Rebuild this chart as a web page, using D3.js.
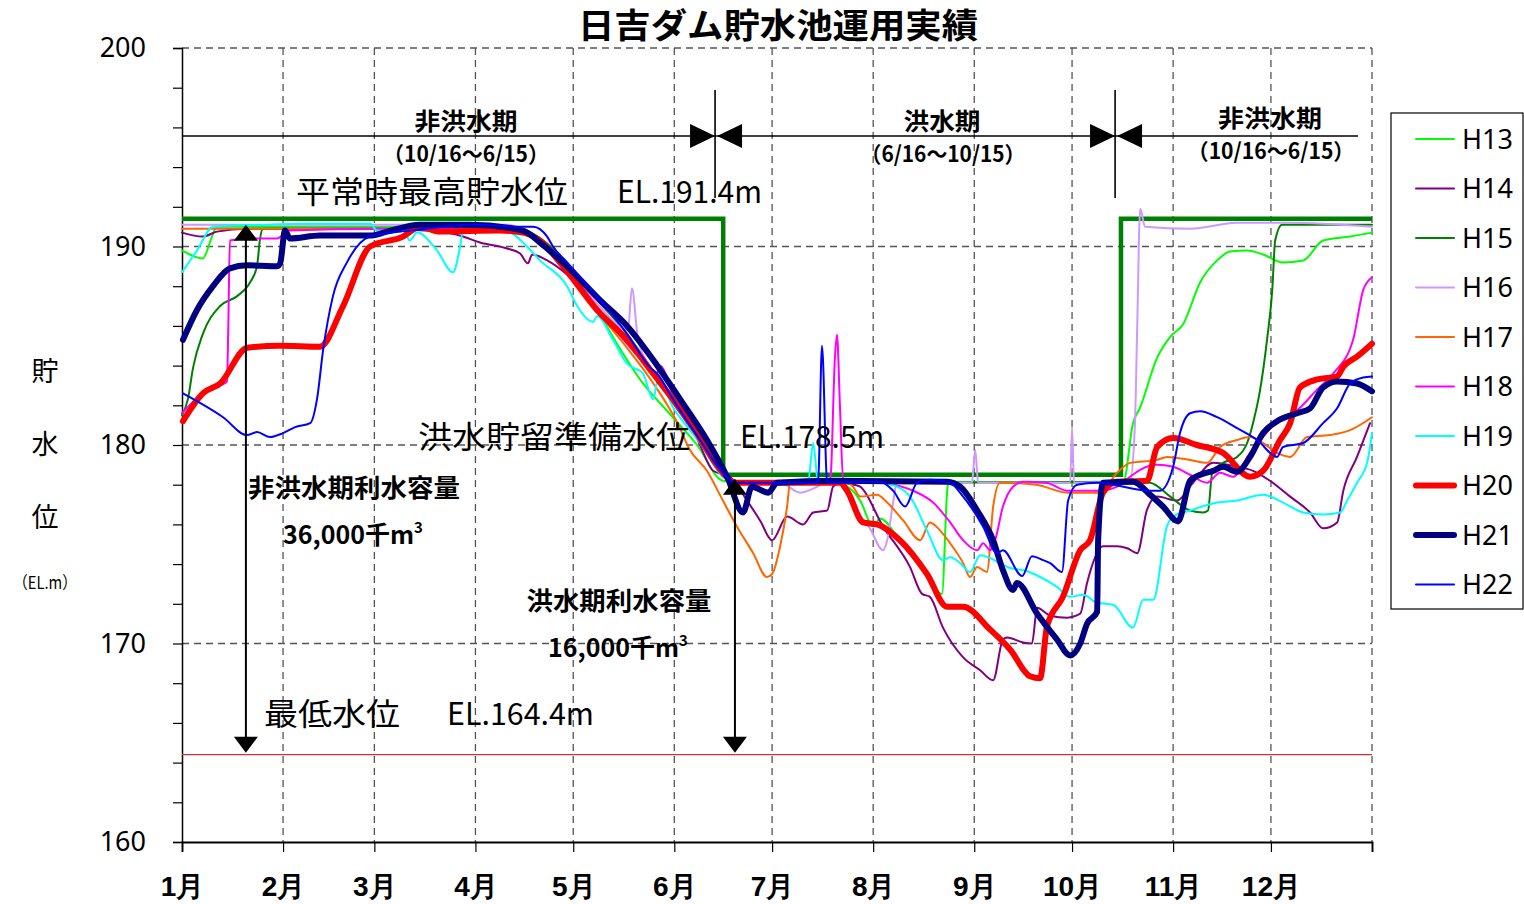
<!DOCTYPE html>
<html>
<head>
<meta charset="utf-8">
<script src="https://cdn.jsdelivr.net/npm/d3@7"></script>
<style>
  body { margin: 0; background: #fff; }
  svg { display: block; font-family: "Noto Sans CJK JP", "Noto Sans", sans-serif; }
</style>
</head>
<body>
<svg id="chart" width="1524" height="904"></svg>
<script>
// ---- axis categories ----
const monthLabels = ["1月","2月","3月","4月","5月","6月","7月","8月","9月","10月","11月","12月"];
const monthStartDays = [0, 31, 59, 90, 120, 151, 181, 212, 243, 273, 304, 334];
const yearEnd = 365;
const yMajorTicks = [160, 170, 180, 190, 200];

// ---- reference levels (EL.m) ----
const normalMaxLevel = 191.4;   // 平常時最高貯水位
const floodPrepLevel = 178.5;   // 洪水貯留準備水位
const minimumLevel = 164.4;     // 最低水位

// operating rule: [day of year, level]
const ruleCurve = [[0,191.4],[166,191.4],[166,178.5],[288,178.5],[288,191.4],[365,191.4]];

// ---- observed reservoir levels: [day of year, EL.m] ----
const seriesNames = ["H13","H14","H15","H16","H17","H18","H19","H20","H21","H22"];

const h13 = [[0,189.8],[6.4,189.4],[9.2,190.5],[10.7,191.0],[40,191.0],[80,191.0],[100,190.9],[108,190.5],[116,189.3],[125,187.4],[135.3,184.6],[140.5,183.3],[150,181.5],[158,180.0],[165.9,178.2],[175,178.1],[195,178.2],[204,177.9],[208,177.2],[212,175.9],[214.1,176.3],[220.2,175.2],[226.4,174.05],[233.1,172.5],[234.7,177.7],[235.0,178.15],[260,178.1],[288.7,178.1],[291.7,181.1],[293.9,181.9],[299.1,184.4],[303.1,185.45],[307.1,186.1],[312.3,188.2],[317.5,189.3],[321.5,189.75],[326.7,189.8],[331.6,189.6],[337.7,189.2],[343.9,189.3],[350.0,190.3],[358.3,190.5],[365,190.7]];

const h14 = [[0,190.7],[6.4,190.5],[10.7,190.75],[19.9,190.9],[60,190.9],[79.1,190.75],[86.2,190.5],[91.4,190.2],[99.7,189.9],[103.7,189.65],[106.1,189.15],[107.4,189.6],[112,189.3],[118,188.6],[128,186.8],[136,185.3],[145,183.4],[152,181.8],[158,180.3],[162.9,178.7],[168.1,178.4],[173.3,177.2],[177.3,176.2],[181.0,175.2],[185.6,176.4],[190.5,176.0],[193.6,176.6],[197.9,176.7],[199.7,177.9],[201.8,178.1],[206,178.0],[208.0,177.9],[215.0,175.9],[223.3,173.85],[227.0,172.5],[229.4,172.35],[233.4,170.8],[239.6,169.3],[244.8,168.65],[248.8,168.15],[251.8,170.2],[253.1,170.3],[258.0,170.05],[260.7,170.0],[262.3,171.8],[266.3,171.4],[271.5,171.3],[275.5,171.5],[277.6,173.05],[282.5,174.9],[286.8,174.9],[289.9,174.8],[293.0,174.55],[296.0,176.75],[299.1,177.4],[305.2,177.2],[310.1,178.1],[316.3,179.1],[323.6,178.9],[328.5,178.7],[333.7,178.2],[339.9,177.4],[346.0,176.6],[350.0,175.8],[354.3,176.1],[356.2,177.7],[360.4,179.4],[364.4,181.1]];

const h15 = [[0,181.5],[1.8,182.3],[3.4,183.9],[6.4,185.6],[11.7,187.0],[16.9,187.5],[20.9,188.2],[23.0,189.0],[23.9,190.35],[24.8,190.9],[60,190.9],[90,191.0],[104,190.9],[110,190.4],[118,189.2],[128,187.2],[136,185.7],[145,183.6],[152,181.9],[160,180.1],[165.9,178.5],[170,178.1],[230,178.1],[288.7,178.15],[296.9,178.1],[303.1,177.4],[309.2,176.7],[313.2,176.6],[314.7,176.7],[316.0,178.6],[319.3,179.1],[323.6,179.4],[326.7,180.1],[328.5,181.1],[330.7,182.8],[332.8,185.3],[334.4,187.8],[335.3,190.3],[337.4,191.1],[365,191.1]];

const h16 = [[0,191.1],[100,191.1],[106,190.7],[112,190.0],[120,188.6],[128,187.0],[136.8,185.8],[138.0,187.9],[139.9,185.3],[145,183.6],[152,181.8],[160,180.0],[166,178.4],[170,178.1],[183.4,178.1],[189.6,177.6],[193.6,177.8],[198.8,178.2],[203,178.0],[207.1,176.7],[211.0,175.8],[215.0,174.7],[216.3,175.2],[218.1,177.1],[219.3,178.1],[242.3,178.1],[243.3,179.75],[244.2,178.1],[272.4,178.1],[273.0,180.9],[273.6,178.1],[290.8,178.2],[292.3,181.1],[293.0,186.1],[293.9,191.9],[295.4,191.0],[309.2,190.9],[323.6,191.2],[339,191.2],[365,191.0]];

const h17 = [[0,190.9],[100,190.9],[106,190.6],[112,189.9],[120,188.4],[128,186.6],[136,185.0],[145,183.0],[152,181.1],[155.8,179.75],[161.0,178.7],[165.9,177.2],[170.2,175.9],[175.2,174.55],[179.4,173.35],[181.0,173.5],[183.4,174.85],[185.6,176.9],[186.5,178.1],[204.0,178.1],[205.8,177.9],[208.0,177.4],[213.2,177.5],[216.3,177.1],[221.2,176.2],[226.4,175.2],[229.4,176.1],[232.5,175.7],[235.6,175.05],[239.6,174.05],[241.7,173.35],[243.9,173.85],[246.9,173.6],[248.8,176.9],[250.9,178.1],[262,178.0],[271.5,177.6],[281.6,177.6],[286.8,178.6],[290.8,179.1],[299.1,179.25],[302.1,179.4],[309.2,179.25],[314.4,179.1],[318.4,179.9],[323.6,180.25],[327.6,180.4],[331.6,180.1],[335.9,179.6],[339.9,179.4],[345.1,180.4],[352.1,180.5],[358.3,180.75],[365,181.4]];

const h18 = [[0,181.6],[6.4,182.6],[11.7,183.0],[13.8,183.2],[14.2,186.0],[14.7,190.3],[20,190.4],[29.1,190.4],[33,190.8],[60,190.9],[100,190.9],[106,190.6],[112,189.8],[120,188.5],[128,186.8],[136,185.2],[144,183.8],[145.7,183.6],[146.5,184.0],[152,181.9],[160,180.1],[166,178.5],[170,178.1],[198.8,178.2],[200.3,184.5],[200.9,185.55],[201.8,182.0],[202.8,178.2],[214.1,178.1],[224.2,177.7],[230.4,177.1],[235.6,176.1],[239.6,175.2],[243.9,174.7],[245.7,175.05],[247.9,174.7],[249.4,175.2],[251.8,176.9],[254.9,177.9],[258.0,178.15],[265,178.1],[271.5,177.7],[281.6,177.7],[286.8,177.9],[290.8,178.4],[293.9,178.75],[299.1,179.0],[304.0,178.9],[309.2,178.5],[314.4,178.1],[318.4,178.6],[322.4,178.4],[327.6,179.6],[331.6,180.4],[335.9,181.25],[342.0,181.75],[348.2,182.8],[353.1,183.6],[359.2,185.3],[362.3,187.8],[365,188.45]];

const h19 = [[0,188.7],[4.6,189.8],[9.5,191.0],[27,191.1],[37.1,191.15],[57.7,191.15],[59.8,190.8],[67.8,190.9],[69.9,190.3],[72.1,190.7],[78.2,189.8],[83.1,188.7],[85.3,190.0],[86.2,190.8],[99.7,190.75],[105.8,190.0],[109.8,189.3],[118.1,188.0],[121.2,187.0],[126.1,186.2],[127.3,186.5],[132.2,185.3],[136.5,184.1],[141.4,183.6],[144.5,182.3],[146.0,183.3],[150.6,181.9],[158.9,180.1],[165.9,178.4],[170,178.1],[192.0,178.1],[193.6,180.1],[195.1,178.1],[214,178.1],[219.3,177.9],[223.3,177.4],[228.5,175.7],[233.4,174.2],[235.6,174.35],[238.7,174.05],[241.7,173.6],[244.8,174.45],[247.9,174.3],[250.9,174.05],[254.0,173.8],[258.0,173.7],[263.2,173.35],[268.4,172.85],[272.4,172.35],[276.4,172.45],[280.7,172.05],[285.6,171.95],[291.7,170.8],[294.8,172.2],[297.9,172.2],[302.1,175.9],[304.0,176.4],[309.2,176.7],[317.5,177.1],[323.6,177.2],[331.6,177.5],[337.7,177.1],[343.9,176.6],[350.0,176.5],[355.2,176.6],[357.4,177.2],[360.4,178.1],[363.5,179.1],[365,180.6]];

const h20 = [[0.3,181.2],[6.4,182.6],[11.7,183.1],[20,184.9],[30,185.0],[42.3,184.95],[49.4,187.0],[57.7,190.0],[67.8,190.5],[73,191.0],[79.1,190.75],[97.5,190.8],[104.6,190.7],[109.8,190.3],[116.9,189.0],[127.3,186.8],[136.5,185.3],[144.5,183.6],[150.6,182.3],[156.7,180.9],[165.9,178.6],[169.6,178.1],[201.8,178.1],[204.0,177.7],[208.9,176.1],[213.2,176.0],[220.2,175.2],[228.5,173.5],[234.7,171.85],[239.6,171.85],[247.9,170.7],[254.0,169.7],[260.1,168.35],[263.2,168.25],[265.3,170.85],[270.2,172.35],[275.5,174.7],[278.5,175.2],[282.5,177.6],[286.8,178.15],[296.0,178.2],[299.1,179.9],[304.0,180.35],[311.3,180.0],[319.3,179.6],[327.6,178.4],[331.6,178.7],[336.8,180.25],[339.9,181.1],[342.9,182.9],[348.2,183.3],[354.3,183.45],[356.2,183.95],[360.4,184.45],[365,185.1]];

const h21 = [[0.3,185.3],[4.6,186.8],[9.5,188.0],[14.7,188.9],[19.9,189.05],[29.1,189.0],[30.1,189.15],[31.6,190.8],[33.1,190.4],[42.3,190.55],[57.7,190.55],[62.9,190.75],[73,191.1],[88.3,191.1],[104.6,190.8],[109.8,190.2],[118.1,189.0],[128.2,187.3],[136.5,186.0],[144.5,184.3],[152.8,182.3],[161.0,180.25],[167.2,178.4],[172.1,176.6],[174.8,177.9],[179.8,177.6],[182.5,178.1],[200,178.2],[234.7,178.15],[238.7,177.9],[243.9,176.7],[248.8,175.2],[251.8,173.7],[254.9,172.7],[256.1,173.05],[262.3,171.5],[268.4,170.2],[272.4,169.4],[275.5,170.0],[277.6,171.0],[280.7,171.6],[281.0,175.2],[282.5,178.1],[291.7,178.15],[296.9,177.5],[300.9,176.9],[305.5,176.15],[309.2,178.2],[312.3,178.5],[316.3,178.7],[319.3,178.9],[323.6,178.65],[327.6,179.4],[331.6,180.6],[335.9,181.2],[342.0,181.6],[346.0,181.85],[350.0,182.9],[354.3,183.2],[360.4,183.1],[365,182.7]];

const h22 = [[0.3,182.6],[12.6,181.4],[19.9,180.5],[23.0,180.65],[27.0,180.4],[31.0,180.6],[34.7,180.9],[39.3,181.1],[41.4,182.3],[43.3,184.8],[46.3,187.5],[50.6,189.2],[57.7,190.5],[69.9,190.8],[89.3,191.1],[104.6,191.0],[107.7,191.0],[112.0,190.5],[113.8,190.0],[118.1,189.2],[127.3,187.5],[136.5,185.6],[143.6,183.9],[145.7,183.6],[150.6,182.3],[158.9,180.25],[165.9,178.6],[170,178.1],[195.1,178.1],[196.3,185.0],[197.9,178.1],[214.1,178.15],[218.1,177.7],[221.8,176.9],[225.5,178.1],[229.4,178.25],[235.6,178.1],[239.6,177.4],[245.7,175.9],[250.0,174.55],[251.8,174.7],[257.7,173.4],[260.7,174.4],[264.1,174.2],[266.3,174.05],[269.9,173.6],[271.8,177.2],[274.5,178.0],[280.7,178.1],[296.9,177.7],[300,177.7],[304.0,178.9],[306.1,180.6],[309.2,181.6],[312.3,181.7],[317.5,181.4],[323.6,180.85],[329.8,180.25],[335.9,179.4],[337.7,179.9],[343.9,180.1],[350.0,181.1],[354.3,181.85],[358.3,183.1],[362.3,183.4],[365,183.45]];

const seriesValues = [h13, h14, h15, h16, h17, h18, h19, h20, h21, h22];

// ---- styling ----
const seriesColors = ["#00ff00","#800080","#008000","#cc99ff","#ff6600","#ff00ff","#00ffff","#ff0000","#000080","#0000ff"];
const seriesWidths = [2, 2, 2, 2, 2, 2, 2, 6, 6, 2];

const svg = d3.select("#chart");
const plot = { left: 182, right: 1372, top: 48, bottom: 842 };

const x = d3.scaleLinear().domain([0, yearEnd]).range([plot.left, plot.right]);
const y = d3.scaleLinear().domain([160, 200]).range([plot.bottom, plot.top]);

// gridlines
const grid = svg.append("g").attr("stroke", "#555").attr("stroke-width", 1.3).attr("stroke-dasharray", "7,5");
grid.selectAll("line.v").data(monthStartDays.slice(1).concat([yearEnd])).join("line")
  .attr("x1", d => x(d)).attr("x2", d => x(d)).attr("y1", plot.top).attr("y2", plot.bottom);
grid.selectAll("line.h").data(yMajorTicks.slice(1)).join("line")
  .attr("x1", plot.left).attr("x2", plot.right).attr("y1", d => y(d)).attr("y2", d => y(d));

// y axis
const yAxis = svg.append("g").attr("transform", `translate(${plot.left},0)`)
  .call(d3.axisLeft(y).tickValues(d3.range(160, 201, 2)).tickSize(9).tickPadding(27)
    .tickFormat(d => d % 10 === 0 ? d : ""));
yAxis.select(".domain").attr("stroke", "#000").attr("stroke-width", 1.5);
yAxis.selectAll(".tick line").attr("stroke", "#000").attr("stroke-width", 1.2);
yAxis.selectAll("text").attr("font-size", 27).attr("fill", "#000")
  .attr("font-family", "'Noto Sans', 'Noto Sans CJK JP', sans-serif");

// x axis
const xAxis = svg.append("g").attr("transform", `translate(0,${plot.bottom})`)
  .call(d3.axisBottom(x).tickValues(monthStartDays.concat([yearEnd])).tickSize(10)
    .tickFormat((d, i) => monthLabels[i] || ""));
xAxis.select(".domain").attr("stroke", "#000").attr("stroke-width", 1.8);
xAxis.selectAll(".tick line").attr("stroke", "#000").attr("stroke-width", 1.2);
xAxis.selectAll("text").attr("font-size", 28).attr("font-weight", "bold").attr("fill", "#000")
  .attr("y", 44).attr("dy", "0.35em");

// minimum level line
svg.append("line").attr("x1", plot.left).attr("x2", plot.right)
  .attr("y1", y(minimumLevel)).attr("y2", y(minimumLevel))
  .attr("stroke", "#d83030").attr("stroke-width", 1.3);

// rule curve
const line = d3.line().x(d => x(d[0])).y(d => y(d[1]));
svg.append("path").datum(ruleCurve).attr("d", line)
  .attr("fill", "none").attr("stroke", "#008000").attr("stroke-width", 4.5);

// observed series
const smooth = d3.line().x(d => x(d[0])).y(d => y(d[1])).curve(d3.curveMonotoneX);
seriesValues.forEach((vals, i) => {
  svg.append("path").datum(vals).attr("d", smooth)
    .attr("fill", "none").attr("stroke", seriesColors[i]).attr("stroke-width", seriesWidths[i])
    .attr("stroke-linejoin", "round").attr("stroke-linecap", "round");
});

// ---- text helper ----
function label(txt, cx, cy, size, weight, len, anchor) {
  const t = svg.append("text").attr("x", cx).attr("y", cy).attr("dy", "0.35em")
    .attr("font-size", size).attr("font-weight", weight || "normal")
    .attr("text-anchor", anchor || "middle").attr("fill", "#000").text(txt);
  if (len) t.attr("textLength", len).attr("lengthAdjust", "spacingAndGlyphs");
  return t;
}

// title
label("日吉ダム貯水池運用実績", 778, 26, 34, "bold", 400);

// y axis title
label("貯", 45, 372, 27);
label("水", 45, 445, 27);
label("位", 45, 518, 27);
label("（EL.m）", 45, 583, 17, "normal", 64);

// flood period header
const periodY = 136;
const floodStartX = x(163.5), floodEndX = x(286.2);
svg.append("line").attr("x1", plot.left).attr("x2", 1358).attr("y1", periodY).attr("y2", periodY)
  .attr("stroke", "#000").attr("stroke-width", 1.6);
[floodStartX, floodEndX].forEach(bx => {
  svg.append("line").attr("x1", bx).attr("x2", bx).attr("y1", 90).attr("y2", 198)
    .attr("stroke", "#000").attr("stroke-width", 1.6);
  svg.append("path").attr("d", `M${bx},${periodY} L${bx - 25},${periodY - 12} L${bx - 25},${periodY + 12} Z`).attr("fill", "#000");
  svg.append("path").attr("d", `M${bx + 2},${periodY} L${bx + 27},${periodY - 12} L${bx + 27},${periodY + 12} Z`).attr("fill", "#000");
});
label("非洪水期", 466, 122, 24, "bold", 103);
label("（10/16～6/15）", 466, 154, 22, "bold", 166);
label("洪水期", 942, 122, 24, "bold", 77);
label("（6/16～10/15）", 943, 154, 22, "bold", 165);
label("非洪水期", 1270, 119, 24, "bold", 104);
label("（10/16～6/15）", 1271, 151, 22, "bold", 167);

// level annotations
label("平常時最高貯水位", 296, 192, 31, "normal", 272, "start");
label("EL.191.4m", 617, 192, 31, "normal", 145, "start");
label("洪水貯留準備水位", 418, 437, 31, "normal", 272, "start");
label("EL.178.5m", 740, 437, 31, "normal", 144, "start");
label("最低水位", 264, 714, 31, "normal", 136, "start");
label("EL.164.4m", 447, 714, 31, "normal", 147, "start");

// storage capacity arrows
function doubleArrow(day, topLevel, bottomLevel) {
  const ax = x(day), yt = y(topLevel), yb = y(bottomLevel);
  svg.append("line").attr("x1", ax).attr("x2", ax).attr("y1", yt + 6).attr("y2", yb - 6)
    .attr("stroke", "#000").attr("stroke-width", 2);
  svg.append("path").attr("d", `M${ax},${yt} L${ax - 12},${yt + 16} L${ax + 12},${yt + 16} Z`).attr("fill", "#000");
  svg.append("path").attr("d", `M${ax},${yb} L${ax - 12},${yb - 16} L${ax + 12},${yb - 16} Z`).attr("fill", "#000");
}
doubleArrow(19.6, 191.1, 164.5);
doubleArrow(169.6, 178.3, 164.5);

function capacityLabel(txt, amount, cx, cy, len, amountX) {
  label(txt, cx, cy, 25, "bold", len);
  const t = svg.append("text").attr("x", amountX).attr("y", cy + 47).attr("dy", "0.35em")
    .attr("font-size", 25).attr("font-weight", "bold").attr("fill", "#000");
  t.append("tspan").text(amount + "千m");
  t.append("tspan").attr("font-size", 15).attr("dy", "-0.7em").text("3");
}
capacityLabel("非洪水期利水容量", "36,000", 354, 488, 212, 283);
capacityLabel("洪水期利水容量", "16,000", 619, 601, 185, 548);

// legend
const legend = svg.append("g");
legend.append("rect").attr("x", 1391).attr("y", 113).attr("width", 132).attr("height", 496)
  .attr("fill", "#fff").attr("stroke", "#000").attr("stroke-width", 1.2);
seriesNames.forEach((name, i) => {
  const ly = 139 + i * 49.5;
  legend.append("line").attr("x1", 1416).attr("x2", 1454).attr("y1", ly).attr("y2", ly)
    .attr("stroke", seriesColors[i]).attr("stroke-width", seriesWidths[i])
    .attr("stroke-linecap", "round");
  legend.append("text").attr("x", 1462).attr("y", ly).attr("dy", "0.36em")
    .attr("font-size", 27).attr("fill", "#000")
    .attr("font-family", "'Noto Sans', 'Noto Sans CJK JP', sans-serif").text(name);
});
</script>
</body>
</html>
